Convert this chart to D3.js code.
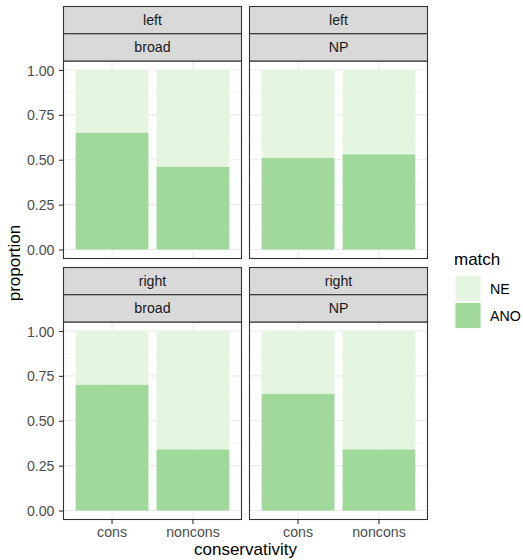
<!DOCTYPE html>
<html>
<head>
<meta charset="utf-8">
<script src="https://cdn.jsdelivr.net/npm/d3@7"></script>
<style>
  body { margin: 0; background: #fff; }
  svg { display: block; font-family: "Liberation Sans", Arial, sans-serif; }
</style>
</head>
<body>
<div id="chart"></div>
<script>
// Facet levels
const sides = ["left", "right"];          // outer strip (rows)
const scopes = ["broad", "NP"];           // inner strip (columns)
const categories = ["cons", "noncons"];   // x axis
const matchLevels = ["NE", "ANO"];        // legend order
const matchColors = ["#e5f5e0", "#a1d99b"];

// Proportion of ANO per panel, in category order
const anoLeftBroad = [0.65, 0.46];
const anoLeftNP = [0.51, 0.53];
const anoRightBroad = [0.70, 0.34];
const anoRightNP = [0.65, 0.34];

const yTicks = [0, 0.25, 0.5, 0.75, 1];
const yTickLabels = ["0.00", "0.25", "0.50", "0.75", "1.00"];

const anoByPanel = {
  "left|broad": anoLeftBroad,
  "left|NP": anoLeftNP,
  "right|broad": anoRightBroad,
  "right|NP": anoRightNP
};

const W = 523, H = 560;
const small = "14.2px", big = "17px";
const svg = d3.select("#chart").append("svg").attr("width", W).attr("height", H);

const colX = [[63.5, 241.5], [249.5, 427.5]];
const rowTop = [6.5, 267.5];
const stripH = 27.25;
const panelH = 197.5;

const color = d3.scaleOrdinal().domain(matchLevels).range(matchColors);

// discrete x: bars 0.9 wide, 0.6 units of room either side of the outer centres
const x = d3.scaleBand().domain(categories).paddingInner(0.1).paddingOuter(0.15);

sides.forEach((side, ri) => {
  const top = rowTop[ri];
  const pTop = top + 2 * stripH;
  const pBot = pTop + panelH;
  const y = d3.scaleLinear().domain([-0.05, 1.05]).range([pBot, pTop]);

  scopes.forEach((scope, ci) => {
    const [x0, x1] = colX[ci];
    const xs = x.copy().range([x0, x1]);
    const g = svg.append("g");

    // panel background and grid
    g.append("rect").attr("x", x0).attr("y", pTop).attr("width", x1 - x0).attr("height", panelH).attr("fill", "#fff");
    const minor = [0.125, 0.375, 0.625, 0.875];
    g.selectAll(".ymin").data(minor).join("line")
      .attr("x1", x0).attr("x2", x1)
      .attr("y1", d => y(d)).attr("y2", d => y(d))
      .attr("stroke", "#f2f2f2").attr("stroke-width", 0.6);
    g.selectAll(".ymaj").data(yTicks).join("line")
      .attr("x1", x0).attr("x2", x1)
      .attr("y1", d => y(d)).attr("y2", d => y(d))
      .attr("stroke", "#ebebeb").attr("stroke-width", 1.1);
    g.selectAll(".xmaj").data(categories).join("line")
      .attr("x1", d => xs(d) + xs.bandwidth() / 2).attr("x2", d => xs(d) + xs.bandwidth() / 2)
      .attr("y1", pTop).attr("y2", pBot)
      .attr("stroke", "#ebebeb").attr("stroke-width", 1.1);

    // stacked bars: ANO at the bottom, NE on top
    const ano = anoByPanel[side + "|" + scope];
    categories.forEach((c, i) => {
      const a = ano[i];
      g.append("rect")
        .attr("x", xs(c)).attr("width", xs.bandwidth())
        .attr("y", y(1)).attr("height", y(a) - y(1))
        .attr("fill", color("NE"));
      g.append("rect")
        .attr("x", xs(c)).attr("width", xs.bandwidth())
        .attr("y", y(a)).attr("height", y(0) - y(a))
        .attr("fill", color("ANO"));
    });

    // panel border
    g.append("rect").attr("x", x0).attr("y", pTop).attr("width", x1 - x0).attr("height", panelH)
      .attr("fill", "none").attr("stroke", "#333333").attr("stroke-width", 1.1);

    // strips
    [side, scope].forEach((lab, si) => {
      const sy = top + si * stripH;
      g.append("rect").attr("x", x0).attr("y", sy).attr("width", x1 - x0).attr("height", stripH)
        .attr("fill", "#d9d9d9").attr("stroke", "#333333").attr("stroke-width", 1.1);
      g.append("text").attr("x", (x0 + x1) / 2).attr("y", sy + stripH / 2 + 5.1)
        .attr("text-anchor", "middle").attr("font-size", small).attr("fill", "#1a1a1a").text(lab);
    });

    // y axis on the left column
    if (ci === 0) {
      const ax = svg.append("g").attr("transform", `translate(${x0},0)`)
        .call(d3.axisLeft(y).tickValues(yTicks).tickSize(4.5).tickPadding(4.5)
          .tickFormat((d, i) => yTickLabels[i]));
      ax.select(".domain").remove();
      ax.selectAll(".tick line").attr("stroke", "#333333").attr("stroke-width", 1.1);
      ax.selectAll(".tick text").attr("fill", "#4d4d4d").attr("font-size", small)
        .attr("dy", "0.36em")
        .attr("font-family", "Liberation Sans, Arial, sans-serif");
    }

    // x axis on the bottom row
    if (ri === 1) {
      const ax = svg.append("g").attr("transform", `translate(0,${pBot})`)
        .call(d3.axisBottom(xs).tickSize(4.5));
      ax.select(".domain").remove();
      ax.selectAll(".tick line").attr("stroke", "#333333").attr("stroke-width", 1.1);
      ax.selectAll(".tick text").attr("fill", "#4d4d4d").attr("font-size", small)
        .attr("dy", null).attr("y", 537.3 - pBot)
        .attr("font-family", "Liberation Sans, Arial, sans-serif");
    }
  });
});

// axis titles
svg.append("text").attr("x", (colX[0][0] + colX[1][1]) / 2).attr("y", 555)
  .attr("text-anchor", "middle").attr("font-size", big).attr("fill", "#000").text("conservativity");
svg.append("text").attr("transform", `translate(20,${(rowTop[0] + rowTop[1] + 2 * stripH + panelH) / 2}) rotate(-90)`)
  .attr("text-anchor", "middle").attr("font-size", big).attr("fill", "#000").text("proportion");

// legend
const lg = svg.append("g").attr("transform", "translate(455,0)");
lg.append("text").attr("x", -1).attr("y", 265).attr("font-size", big).attr("fill", "#000").text("match");
matchLevels.forEach((m, i) => {
  const ky = 275.8 + i * 26.7;
  lg.append("rect").attr("x", 0).attr("y", ky).attr("width", 26).attr("height", 26).attr("fill", color(m))
    .attr("stroke", "#fff").attr("stroke-width", 0.8);
  lg.append("text").attr("x", 35).attr("y", ky + 13 + 5.1).attr("font-size", small).attr("fill", "#000").text(m);
});
</script>
</body>
</html>
